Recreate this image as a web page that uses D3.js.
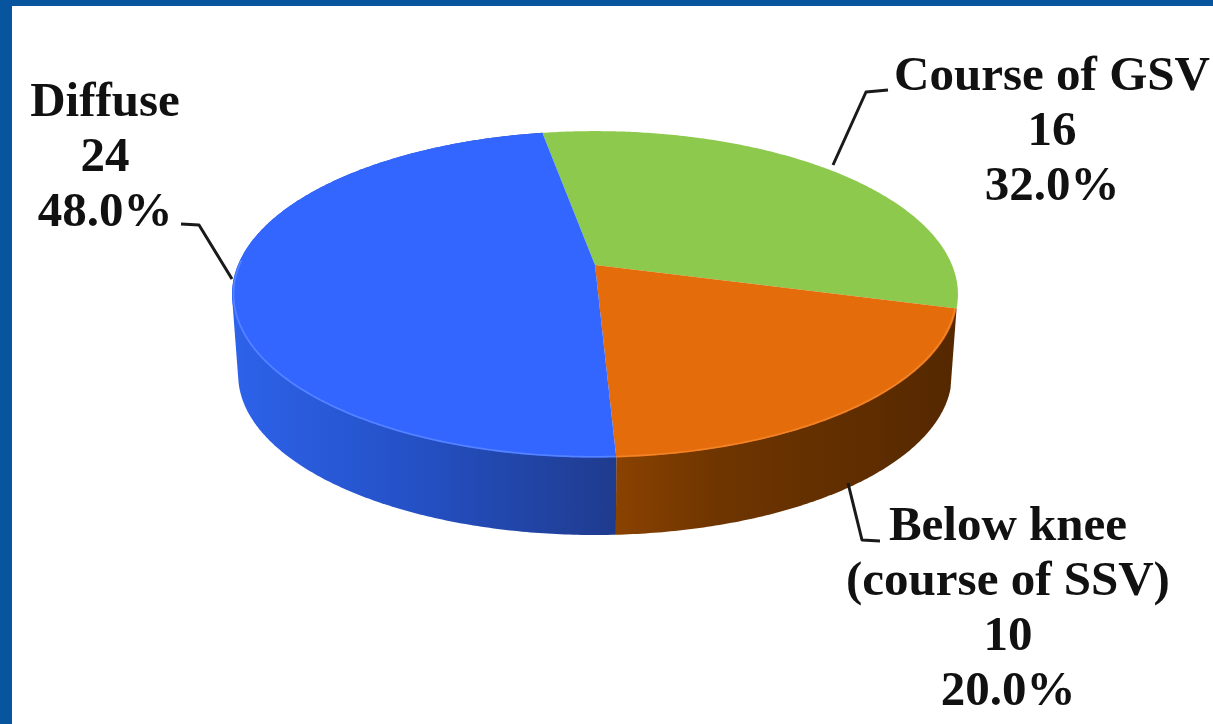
<!DOCTYPE html>
<html>
<head>
<meta charset="utf-8">
<script src="https://cdn.jsdelivr.net/npm/d3@7"></script>
<style>
html,body{margin:0;padding:0;background:#07559f;overflow:hidden}
svg{display:block}
text{font-family:"Liberation Serif",serif;font-weight:700;fill:#111;text-anchor:middle}
</style>
</head>
<body>
<script>
// Distribution of lesion sites
const categories = ["Course of GSV", "Below knee (course of SSV)", "Diffuse"];
const counts = [16, 10, 24];
const shares = ["32.0%", "20.0%", "48.0%"];
const labelLines = [["Course of GSV"], ["Below knee", "(course of SSV)"], ["Diffuse"]];
const topColors = ["#8cc94c", "#e46c0a", "#3366ff"];
const rimColors = ["none", "#f58a30", "#5f8bff"];

const W = 1213, H = 724;
const svg = d3.select("body").append("svg").attr("width", W).attr("height", H);

const defs = svg.append("defs");
function wallGradient(id, stops) {
  const g = defs.append("linearGradient").attr("id", id)
    .attr("gradientUnits", "userSpaceOnUse")
    .attr("x1", stops[0][0]).attr("x2", stops[stops.length - 1][0])
    .attr("y1", 0).attr("y2", 0);
  stops.forEach(s => g.append("stop")
    .attr("offset", (s[0] - stops[0][0]) / (stops[stops.length - 1][0] - stops[0][0]))
    .attr("stop-color", s[1]));
}
wallGradient("wallBlue", [[232, "#2d62ea"], [420, "#2450c4"], [615, "#1f3b8e"]]);
wallGradient("wallBrown", [[615, "#8a4200"], [720, "#6e3500"], [955, "#552800"]]);

// Page frame and white panel
svg.append("rect").attr("width", W).attr("height", H).attr("fill", "#07559f");
svg.append("rect").attr("x", 12).attr("y", 6).attr("width", W - 12).attr("height", H - 6).attr("fill", "#fff");

// Pie angles, rotated so the first slice starts a little before twelve o'clock
const pie = d3.pie().sort(null).startAngle(-10 * Math.PI / 180).endAngle(350 * Math.PI / 180);
const arcs = pie(counts);

// Perspective projection of the unit disc onto the picture plane
const tilt = 0.18;
const topDisc = {cx: 595, cy: 265, a: 357, b: 158};
const baseDisc = {cx: 595, cy: 346, a: 351, b: 155};
function project(disc, angle, r = 1) {
  const u = r * Math.sin(angle), v = -r * Math.cos(angle);
  const w = 1 - tilt * v;
  return [disc.cx + disc.a * u / w, disc.cy + disc.b * v / w];
}
function arcAngles(d) {
  const steps = Math.max(2, Math.ceil((d.endAngle - d.startAngle) / 0.01));
  return d3.range(steps + 1).map(i => d.startAngle + (d.endAngle - d.startAngle) * i / steps);
}
const line = d3.line();

// Side walls: the hull of each slice's top and base arcs gives the silhouette
const wallFills = ["none", "url(#wallBrown)", "url(#wallBlue)"];
svg.append("g").selectAll("path").data(arcs).join("path")
  .attr("fill", (d, i) => wallFills[i])
  .attr("d", d => {
    const angles = arcAngles(d);
    const pts = angles.map(a => project(topDisc, a)).concat(angles.map(a => project(baseDisc, a)));
    return line(d3.polygonHull(pts)) + "Z";
  });

// Top faces
svg.append("g").selectAll("path").data(arcs).join("path")
  .attr("fill", (d, i) => topColors[i])
  .attr("d", d => line([[topDisc.cx, topDisc.cy]].concat(arcAngles(d).map(a => project(topDisc, a)))) + "Z");

// Soft bevel along the near edge of the top
const nearLimit = 272 * Math.PI / 180;
svg.append("g").selectAll("path").data(arcs).join("path")
  .attr("fill", "none")
  .attr("stroke", (d, i) => rimColors[i])
  .attr("stroke-width", 1.6)
  .attr("opacity", 0.8)
  .attr("d", d => line(arcAngles(d).filter(a => a < nearLimit).map(a => project(topDisc, a, 0.996))));

// Leader lines
const leaders = [
  [[833, 165], [866, 92], [888, 90]],
  [[848, 483], [862, 540], [880, 541]],
  [[232, 279], [199, 225], [181, 224]]
];
svg.append("g").selectAll("path").data(leaders).join("path")
  .attr("fill", "none").attr("stroke", "#1a1a1a").attr("stroke-width", 3)
  .attr("stroke-linejoin", "round")
  .attr("d", d => line(d));

// Labels: name lines, count, share
const labelAnchors = [
  {x: 1052, y: 90},
  {x: 1008, y: 540},
  {x: 105, y: 116}
];
const lineStep = 55;
const labels = svg.append("g").selectAll("text").data(arcs).join("text")
  .attr("font-size", 49)
  .attr("x", (d, i) => labelAnchors[i].x)
  .attr("y", (d, i) => labelAnchors[i].y);
labels.each(function (d, i) {
  const rows = labelLines[i].concat([String(counts[i]), shares[i]]);
  d3.select(this).selectAll("tspan").data(rows).join("tspan")
    .attr("x", labelAnchors[i].x)
    .attr("dy", (r, k) => k === 0 ? 0 : lineStep)
    .text(r => r);
});
labels.append("title").text((d, i) => categories[i]);
</script>
</body>
</html>
